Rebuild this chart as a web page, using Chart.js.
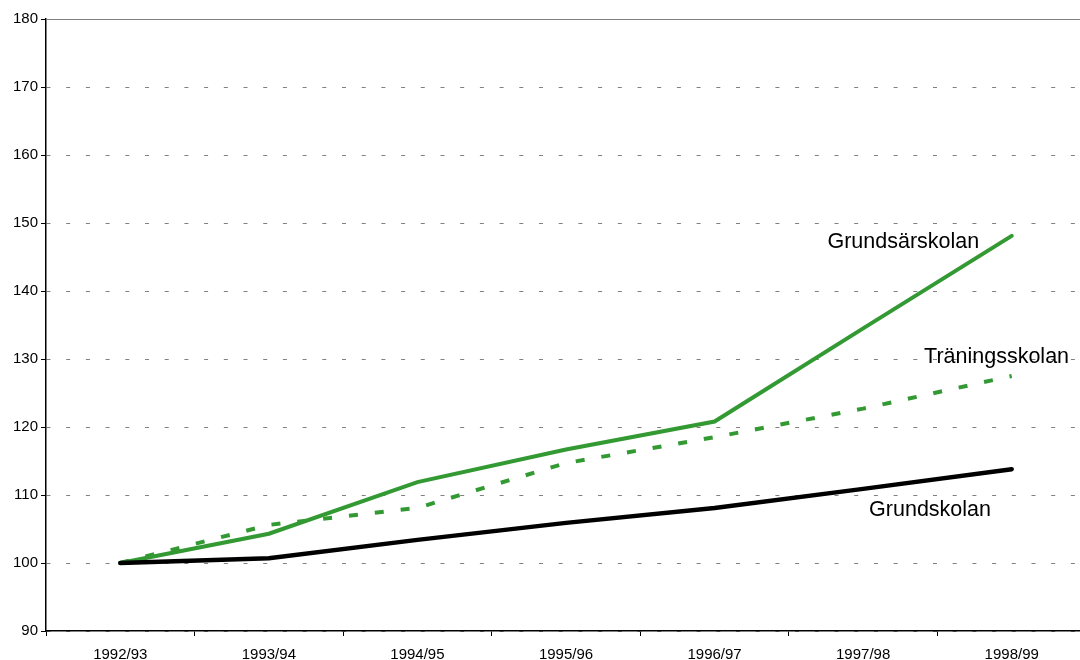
<!DOCTYPE html>
<html>
<head>
<meta charset="utf-8">
<script src="https://cdn.jsdelivr.net/npm/chart.js@4"></script>
<style>
  html, body { margin: 0; padding: 0; background: #fff; overflow: hidden; }
  canvas { display: block; }
</style>
</head>
<body>
<canvas id="chart" width="1090" height="660"></canvas>
<script>
const categories = ['1992/93', '1993/94', '1994/95', '1995/96', '1996/97', '1997/98', '1998/99'];
const grundskolan = [100, 100.7, 103.4, 105.9, 108.1, 110.9, 113.8];
const grundsarskolan = [100, 104.3, 111.9, 116.7, 120.8, 134.5, 148.1];
const traningsskolan = [100, 105.6, 108.1, 114.7, 118.5, 122.7, 127.5];
const yTicks = [90, 100, 110, 120, 130, 140, 150, 160, 170, 180];

// line labels: text, category position, value
const labelTexts = ['Grundsärskolan', 'Träningsskolan', 'Grundskolan'];
const labelCats = [4.76, 5.41, 5.04];
const labelVals = [147.2, 130.3, 107.8];

const GREEN = '#339933';
const FONT = "'Liberation Sans', Arial, sans-serif";

// solid grey line at the top + line labels
const extras = {
    id: 'extras',
    beforeDatasetsDraw(chart) {
        const { ctx, chartArea, scales: { y } } = chart;
        const top = y.getPixelForValue(yTicks[yTicks.length - 1]);
        ctx.save();
        ctx.strokeStyle = '#808080';
        ctx.lineWidth = 1;
        ctx.beginPath();
        ctx.moveTo(chartArea.left, top + 0.5);
        ctx.lineTo(chartArea.right, top + 0.5);
        ctx.stroke();
        ctx.restore();
    },
    afterDatasetsDraw(chart) {
        const { ctx, scales: { x, y } } = chart;
        ctx.save();
        ctx.font = `21.5px ${FONT}`;
        ctx.fillStyle = '#000';
        ctx.textAlign = 'left';
        ctx.textBaseline = 'middle';
        labelTexts.forEach((t, i) => {
            ctx.fillText(t, x.getPixelForValue(labelCats[i]), y.getPixelForValue(labelVals[i]));
        });
        ctx.restore();
    }
};

new Chart(document.getElementById('chart'), {
    type: 'line',
    data: {
        labels: categories,
        datasets: [
            {
                label: 'Grundskolan',
                data: grundskolan,
                borderColor: '#000',
                borderWidth: 4.5,
                borderCapStyle: 'round',
                pointRadius: 0,
                tension: 0
            },
            {
                label: 'Grundsärskolan',
                data: grundsarskolan,
                borderColor: GREEN,
                borderWidth: 4,
                borderCapStyle: 'round',
                pointRadius: 0,
                tension: 0
            },
            {
                label: 'Träningsskolan',
                data: traningsskolan,
                borderColor: GREEN,
                borderWidth: 4,
                borderDash: [9, 17],
                borderCapStyle: 'butt',
                pointRadius: 0,
                tension: 0
            }
        ]
    },
    options: {
        responsive: false,
        animation: false,
        layout: { padding: { top: 19, right: 4, left: 0, bottom: 0 } },
        plugins: {
            legend: { display: false },
            tooltip: { enabled: false }
        },
        scales: {
            x: {
                offset: true,
                grid: {
                    offset: true,
                    drawOnChartArea: false,
                    drawTicks: true,
                    tickLength: 5,
                    tickColor: '#000',
                    tickWidth: 1
                },
                border: { display: true, color: '#000', width: 1.5 },
                ticks: {
                    color: '#000',
                    font: { family: FONT, size: 15 },
                    padding: 10,
                    maxRotation: 0,
                    autoSkip: false
                },
                afterFit(scale) { scale.height = 29; }
            },
            y: {
                min: 90,
                max: 180,
                afterBuildTicks(scale) {
                    scale.ticks = yTicks.map(v => ({ value: v }));
                },
                grid: {
                    color: (c) => c.tick && c.tick.value === 180 ? 'rgba(0,0,0,0)' : '#808080',
                    lineWidth: 1,
                    drawTicks: true,
                    tickLength: 5,
                    tickColor: '#000',
                    tickWidth: 1,
                    tickBorderDash: []
                },
                border: { display: true, color: '#000', width: 1.5, dash: [4, 15.7], dashOffset: 0 },
                ticks: {
                    color: '#000',
                    font: { family: FONT, size: 15 },
                    padding: 3
                },
                afterFit(scale) { scale.width = 46; }
            }
        }
    },
    plugins: [extras]
});
</script>
</body>
</html>
